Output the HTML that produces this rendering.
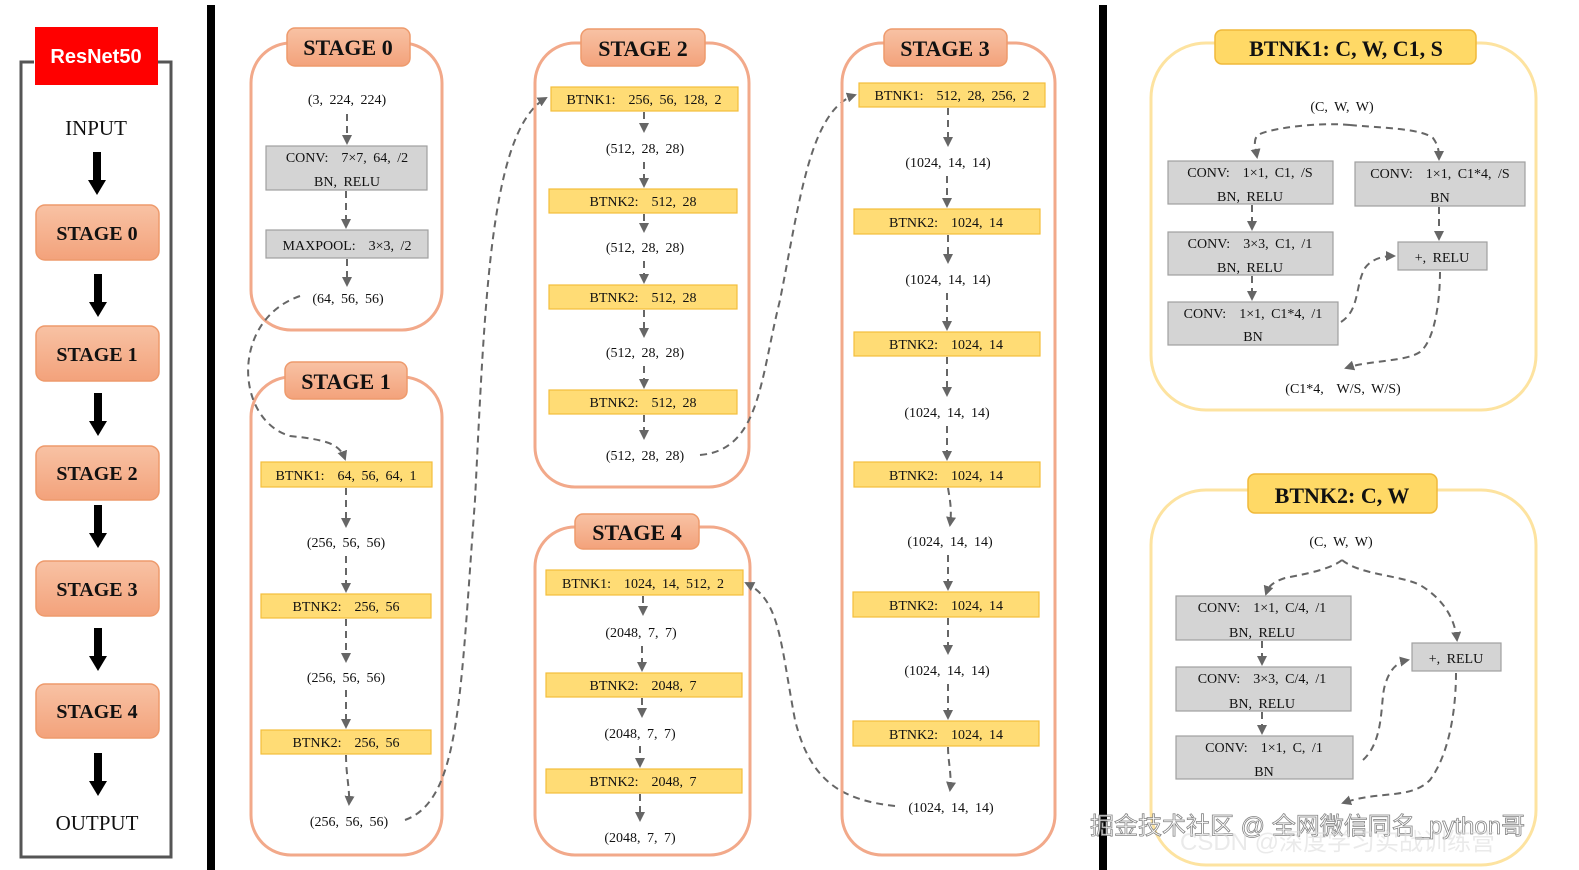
<!DOCTYPE html>
<html><head><meta charset="utf-8"><style>
html,body{margin:0;padding:0;background:#fff;}
svg{display:block;}
text{font-family:"Liberation Serif",serif;fill:#111;}
.t{font-size:14px;text-anchor:middle;word-spacing:3px;white-space:pre;}
.h{font-size:22px;font-weight:bold;text-anchor:middle;}
.ls{font-size:20px;font-weight:bold;text-anchor:middle;}
.d{fill:none;stroke:#666;stroke-width:2;stroke-dasharray:7,5;}
.g{fill:#d4d4d4;stroke:#a0a0a0;stroke-width:1.2;}
.y{fill:#ffdc75;stroke:#f3bd3c;stroke-width:1.2;}
.sc{fill:none;stroke:#f2a98a;stroke-width:3;}
.yc{fill:none;stroke:#fde3a0;stroke-width:3;}
.st{fill:url(#sg);stroke:#ee9a6c;stroke-width:1.5;}
.yt{fill:#ffd966;stroke:#f0b93a;stroke-width:1.5;}
</style></head><body>
<svg width="1579" height="870" viewBox="0 0 1579 870" xmlns="http://www.w3.org/2000/svg">
<defs>
<linearGradient id="sg" x1="0" y1="0" x2="0" y2="1"><stop offset="0" stop-color="#f8c2a4"/><stop offset="1" stop-color="#f3a27b"/></linearGradient>
<marker id="a" viewBox="0 0 10 10" refX="8" refY="5" markerWidth="5" markerHeight="5" orient="auto"><path d="M0,0L10,5L0,10z" fill="#666"/></marker>
</defs>

<path d="M34,62H21V857H171V62H158" fill="none" stroke="#555" stroke-width="3"/>
<rect x="35" y="27" width="123" height="58" fill="#ff0000"/>
<text x="96" y="63" style="font-family:'Liberation Sans',sans-serif;font-weight:bold;font-size:20px;fill:#fff;text-anchor:middle">ResNet50</text>
<text x="96" y="135" style="font-size:21px;text-anchor:middle">INPUT</text>
<text x="97" y="830" style="font-size:21px;text-anchor:middle">OUTPUT</text>
<g fill="#000">
<rect x="93" y="152" width="8" height="30"/><path d="M88,180H106L97,195z"/>
<rect x="94" y="274" width="8" height="30"/><path d="M89,302H107L98,317z"/>
<rect x="94" y="393" width="8" height="30"/><path d="M89,421H107L98,436z"/>
<rect x="94" y="505" width="8" height="30"/><path d="M89,533H107L98,548z"/>
<rect x="94" y="628" width="8" height="30"/><path d="M89,656H107L98,671z"/>
<rect x="94" y="753" width="8" height="30"/><path d="M89,781H107L98,796z"/>
</g>
<rect class="st" x="36" y="205" width="123" height="55" rx="9"/><text class="ls" x="97" y="240">STAGE 0</text>
<rect class="st" x="36" y="326" width="123" height="55" rx="9"/><text class="ls" x="97" y="361">STAGE 1</text>
<rect class="st" x="36" y="446" width="123" height="54" rx="9"/><text class="ls" x="97" y="480">STAGE 2</text>
<rect class="st" x="36" y="561" width="123" height="55" rx="9"/><text class="ls" x="97" y="596">STAGE 3</text>
<rect class="st" x="36" y="684" width="123" height="54" rx="9"/><text class="ls" x="97" y="718">STAGE 4</text>

<rect x="207" y="5" width="8" height="865" fill="#000"/>
<rect x="1099" y="5" width="8" height="865" fill="#000"/>

<rect class="sc" x="251" y="43" width="191" height="287" rx="40"/>
<rect class="st" x="287" y="28" width="123" height="38" rx="8"/><text class="h" x="348" y="55">STAGE 0</text>
<text class="t" x="347" y="104">(3, 224, 224)</text>
<path class="d" d="M347,114V143" marker-end="url(#a)"/>
<rect class="g" x="266" y="146" width="161" height="44"/>
<text class="t" x="347" y="162">CONV:  7×7, 64, /2</text><text class="t" x="347" y="186">BN, RELU</text>
<path class="d" d="M346,191V227" marker-end="url(#a)"/>
<rect class="g" x="266" y="230" width="162" height="28"/><text class="t" x="347" y="250">MAXPOOL:  3×3, /2</text>
<path class="d" d="M347,259V285" marker-end="url(#a)"/>
<text class="t" x="348" y="303">(64, 56, 56)</text>

<rect class="sc" x="251" y="377" width="191" height="478" rx="40"/>
<rect class="st" x="285" y="362" width="122" height="37" rx="8"/><text class="h" x="346" y="389">STAGE 1</text>
<path class="d" d="M300,296C230,320 235,420 290,436C330,440 340,445 345,459" marker-end="url(#a)"/>
<rect class="y" x="261" y="462" width="171" height="25"/><text class="t" x="346" y="480">BTNK1:  64, 56, 64, 1</text>
<path class="d" d="M346,488V526" marker-end="url(#a)"/>
<text class="t" x="346" y="547">(256, 56, 56)</text>
<path class="d" d="M346,556V591" marker-end="url(#a)"/>
<rect class="y" x="261" y="594" width="170" height="24"/><text class="t" x="346" y="611">BTNK2:  256, 56</text>
<path class="d" d="M346,619V661" marker-end="url(#a)"/>
<text class="t" x="346" y="682">(256, 56, 56)</text>
<path class="d" d="M346,690V727" marker-end="url(#a)"/>
<rect class="y" x="261" y="730" width="170" height="24"/><text class="t" x="346" y="747">BTNK2:  256, 56</text>
<path class="d" d="M346,755C346,775 350,790 349,804" marker-end="url(#a)"/>
<text class="t" x="349" y="826">(256, 56, 56)</text>
<path class="d" d="M405,820C460,800 460,700 475,500C485,300 490,130 546,98" marker-end="url(#a)"/>

<rect class="sc" x="535" y="43" width="214" height="444" rx="40"/>
<rect class="st" x="581" y="29" width="124" height="37" rx="8"/><text class="h" x="643" y="56">STAGE 2</text>
<rect class="y" x="551" y="87" width="187" height="24"/><text class="t" x="644" y="104">BTNK1:  256, 56, 128, 2</text>
<path class="d" d="M644,112V131" marker-end="url(#a)"/>
<text class="t" x="645" y="153">(512, 28, 28)</text>
<path class="d" d="M644,162V186" marker-end="url(#a)"/>
<rect class="y" x="549" y="189" width="188" height="24"/><text class="t" x="643" y="206">BTNK2:  512, 28</text>
<path class="d" d="M644,214V231" marker-end="url(#a)"/>
<text class="t" x="645" y="252">(512, 28, 28)</text>
<path class="d" d="M644,261V282" marker-end="url(#a)"/>
<rect class="y" x="549" y="285" width="188" height="24"/><text class="t" x="643" y="302">BTNK2:  512, 28</text>
<path class="d" d="M644,310V336" marker-end="url(#a)"/>
<text class="t" x="645" y="357">(512, 28, 28)</text>
<path class="d" d="M644,366V387" marker-end="url(#a)"/>
<rect class="y" x="549" y="390" width="188" height="24"/><text class="t" x="643" y="407">BTNK2:  512, 28</text>
<path class="d" d="M644,415V438" marker-end="url(#a)"/>
<text class="t" x="645" y="460">(512, 28, 28)</text>
<path class="d" d="M700,455C760,450 760,380 780,300C800,200 810,110 855,95" marker-end="url(#a)"/>

<rect class="sc" x="535" y="527" width="215" height="328" rx="40"/>
<rect class="st" x="575" y="514" width="124" height="35" rx="8"/><text class="h" x="637" y="540">STAGE 4</text>
<rect class="y" x="546" y="570" width="197" height="25"/><text class="t" x="643" y="588">BTNK1:  1024, 14, 512, 2</text>
<path class="d" d="M643,596V614" marker-end="url(#a)"/>
<text class="t" x="641" y="637">(2048, 7, 7)</text>
<path class="d" d="M642,646V670" marker-end="url(#a)"/>
<rect class="y" x="546" y="673" width="196" height="24"/><text class="t" x="643" y="690">BTNK2:  2048, 7</text>
<path class="d" d="M642,698V716" marker-end="url(#a)"/>
<text class="t" x="640" y="738">(2048, 7, 7)</text>
<path class="d" d="M640,746V766" marker-end="url(#a)"/>
<rect class="y" x="546" y="769" width="196" height="24"/><text class="t" x="643" y="786">BTNK2:  2048, 7</text>
<path class="d" d="M640,794V820" marker-end="url(#a)"/>
<text class="t" x="640" y="842">(2048, 7, 7)</text>
<path class="d" d="M895,806C840,800 810,780 795,720C780,640 780,600 746,583" marker-end="url(#a)"/>

<rect class="sc" x="842" y="43" width="213" height="812" rx="40"/>
<rect class="st" x="884" y="29" width="123" height="37" rx="8"/><text class="h" x="945" y="56">STAGE 3</text>
<rect class="y" x="859" y="83" width="186" height="24"/><text class="t" x="952" y="100">BTNK1:  512, 28, 256, 2</text>
<path class="d" d="M948,108V145" marker-end="url(#a)"/>
<text class="t" x="948" y="167">(1024, 14, 14)</text>
<path class="d" d="M947,176V206" marker-end="url(#a)"/>
<rect class="y" x="854" y="209" width="186" height="25"/><text class="t" x="946" y="227">BTNK2:  1024, 14</text>
<path class="d" d="M948,235V262" marker-end="url(#a)"/>
<text class="t" x="948" y="284">(1024, 14, 14)</text>
<path class="d" d="M947,293V329" marker-end="url(#a)"/>
<rect class="y" x="854" y="332" width="186" height="24"/><text class="t" x="946" y="349">BTNK2:  1024, 14</text>
<path class="d" d="M947,357V395" marker-end="url(#a)"/>
<text class="t" x="947" y="417">(1024, 14, 14)</text>
<path class="d" d="M947,426V459" marker-end="url(#a)"/>
<rect class="y" x="854" y="462" width="186" height="25"/><text class="t" x="946" y="480">BTNK2:  1024, 14</text>
<path class="d" d="M948,488C950,500 952,510 950,525" marker-end="url(#a)"/>
<text class="t" x="950" y="546">(1024, 14, 14)</text>
<path class="d" d="M948,555V589" marker-end="url(#a)"/>
<rect class="y" x="853" y="592" width="186" height="25"/><text class="t" x="946" y="610">BTNK2:  1024, 14</text>
<path class="d" d="M948,618V653" marker-end="url(#a)"/>
<text class="t" x="947" y="675">(1024, 14, 14)</text>
<path class="d" d="M948,684V718" marker-end="url(#a)"/>
<rect class="y" x="853" y="721" width="186" height="25"/><text class="t" x="946" y="739">BTNK2:  1024, 14</text>
<path class="d" d="M948,747C948,762 952,775 950,790" marker-end="url(#a)"/>
<text class="t" x="951" y="812">(1024, 14, 14)</text>

<rect class="yc" x="1151" y="43" width="385" height="367" rx="55"/>
<rect class="yt" x="1215" y="30" width="261" height="34" rx="7"/><text class="h" x="1346" y="56">BTNK1: C, W, C1, S</text>
<text class="t" x="1342" y="111">(C, W, W)</text>
<path class="d" d="M1350,125C1320,122 1270,128 1258,135C1253,140 1255,146 1257,157" marker-end="url(#a)"/>
<path class="d" d="M1350,125C1380,128 1420,128 1433,138C1438,145 1439,150 1439,159" marker-end="url(#a)"/>
<rect class="g" x="1168" y="161" width="165" height="43"/>
<text class="t" x="1250" y="177">CONV:  1×1, C1, /S</text><text class="t" x="1250" y="201">BN, RELU</text>
<rect class="g" x="1355" y="162" width="170" height="44"/>
<text class="t" x="1440" y="178">CONV:  1×1, C1*4, /S</text><text class="t" x="1440" y="202">BN</text>
<path class="d" d="M1252,205V229" marker-end="url(#a)"/>
<rect class="g" x="1168" y="232" width="165" height="43"/>
<text class="t" x="1250" y="248">CONV:  3×3, C1, /1</text><text class="t" x="1250" y="272">BN, RELU</text>
<path class="d" d="M1439,207V239" marker-end="url(#a)"/>
<rect class="g" x="1398" y="242" width="89" height="28"/><text class="t" x="1442" y="262">+, RELU</text>
<path class="d" d="M1252,276V299" marker-end="url(#a)"/>
<rect class="g" x="1168" y="302" width="170" height="43"/>
<text class="t" x="1253" y="318">CONV:  1×1, C1*4, /1</text><text class="t" x="1253" y="341">BN</text>
<path class="d" d="M1341,322C1360,310 1355,285 1365,268C1372,258 1385,256 1394,256" marker-end="url(#a)"/>
<path class="d" d="M1440,272C1440,300 1435,340 1420,352C1405,362 1370,360 1346,368" marker-end="url(#a)"/>
<text class="t" x="1343" y="393">(C1*4,  W/S, W/S)</text>

<rect class="yc" x="1151" y="490" width="385" height="375" rx="55"/>
<rect class="yt" x="1248" y="474" width="189" height="39" rx="7"/><text class="h" x="1342" y="503">BTNK2: C, W</text>
<text class="t" x="1341" y="546">(C, W, W)</text>
<path class="d" d="M1342,560C1330,570 1300,575 1285,578C1270,583 1268,588 1266,594" marker-end="url(#a)"/>
<path class="d" d="M1342,560C1360,575 1400,575 1420,585C1445,600 1455,620 1457,640" marker-end="url(#a)"/>
<rect class="g" x="1176" y="596" width="175" height="44"/>
<text class="t" x="1262" y="612">CONV:  1×1, C/4, /1</text><text class="t" x="1262" y="637">BN, RELU</text>
<path class="d" d="M1262,641V664" marker-end="url(#a)"/>
<rect class="g" x="1176" y="667" width="175" height="44"/>
<text class="t" x="1262" y="683">CONV:  3×3, C/4, /1</text><text class="t" x="1262" y="708">BN, RELU</text>
<path class="d" d="M1262,712V733" marker-end="url(#a)"/>
<rect class="g" x="1176" y="736" width="177" height="43"/>
<text class="t" x="1264" y="752">CONV:  1×1, C, /1</text><text class="t" x="1264" y="776">BN</text>
<path class="d" d="M1363,760C1385,740 1380,700 1385,685C1390,668 1398,662 1408,660" marker-end="url(#a)"/>
<rect class="g" x="1412" y="643" width="89" height="28"/><text class="t" x="1456" y="663">+, RELU</text>
<path class="d" d="M1456,673C1456,700 1452,750 1430,780C1410,800 1380,790 1343,803" marker-end="url(#a)"/>

<text x="1090" y="834" style="font-family:'Liberation Sans','Noto Sans CJK SC',sans-serif;font-size:24px;fill:#ffffff;stroke:#777;stroke-width:0.8;opacity:0.9">掘金技术社区 @ 全网微信同名_python哥</text>
<text x="1180" y="850" style="font-family:'Liberation Sans','Noto Sans CJK SC',sans-serif;font-size:24px;fill:#ddd;opacity:0.6">CSDN @深度学习实战训练营</text>
</svg>
</body></html>
